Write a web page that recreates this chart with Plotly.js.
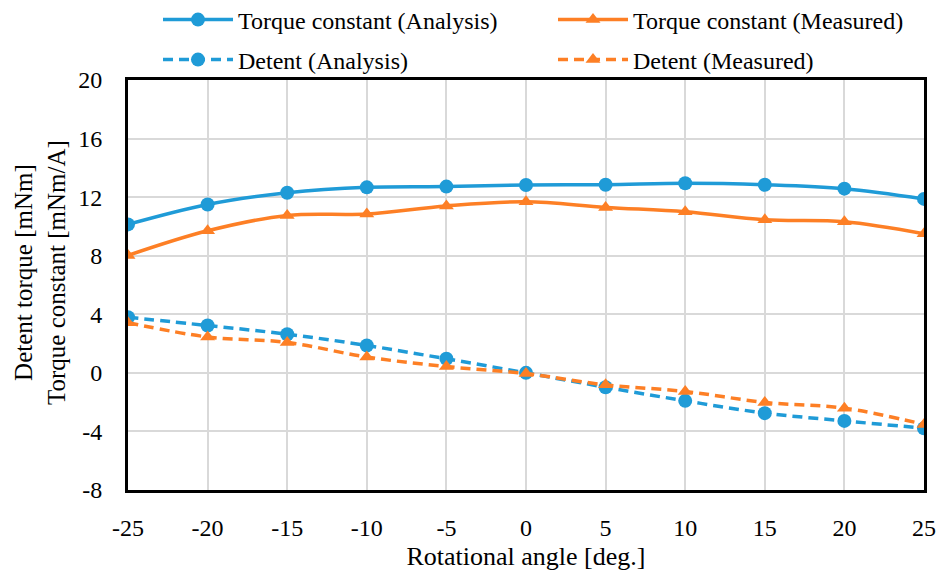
<!DOCTYPE html>
<html>
<head>
<meta charset="utf-8">
<script src="https://cdn.plot.ly/plotly-3.0.1.min.js"></script>
<style>html,body{margin:0;padding:0;background:#fff;}#chart{width:939px;height:572px;}</style>
</head>
<body>
<div id="chart"></div>
<script>
const angles = [-25, -20, -15, -10, -5, 0, 5, 10, 15, 20, 25];
const tcAnalysis = [10.14, 11.5, 12.3, 12.67, 12.72, 12.83, 12.85, 12.95, 12.85, 12.58, 11.88];
const tcMeasured = [8.02, 9.7, 10.75, 10.85, 11.4, 11.68, 11.3, 11.0, 10.45, 10.32, 9.5];
const detAnalysis = [3.8, 3.23, 2.64, 1.87, 0.96, 0.0, -0.98, -1.91, -2.75, -3.28, -3.78];
const detMeasured = [3.43, 2.45, 2.08, 1.08, 0.43, -0.05, -0.82, -1.27, -2.02, -2.41, -3.52];
const xTicks = [-25, -20, -15, -10, -5, 0, 5, 10, 15, 20, 25];
const yTicks = [-8, -4, 0, 4, 8, 12, 16, 20];

const blue = '#1f9bd7';
const orange = '#fd7f25';
const font = 'Liberation Serif';

const traces = [
  {x: angles, y: tcAnalysis, name: 'Torque constant (Analysis)', mode: 'lines+markers',
   line: {color: blue, width: 3.5, shape: 'spline'}, marker: {symbol: 'circle', size: 14, color: blue}, legend: 'legend'},
  {x: angles, y: tcMeasured, name: 'Torque constant (Measured)', mode: 'lines+markers',
   line: {color: orange, width: 3.5, shape: 'spline'}, marker: {symbol: 'triangle-up', size: 13, color: orange}, legend: 'legend2'},
  {x: angles, y: detAnalysis, name: 'Detent (Analysis)', mode: 'lines+markers',
   line: {color: blue, width: 3.5, dash: '10px,6px', shape: 'spline'}, marker: {symbol: 'circle', size: 14, color: blue}, legend: 'legend3'},
  {x: angles, y: detMeasured, name: 'Detent (Measured)', mode: 'lines+markers',
   line: {color: orange, width: 3.5, dash: '10px,6px', shape: 'spline'}, marker: {symbol: 'triangle-up', size: 13, color: orange}, legend: 'legend4'}
];

const legendCommon = {orientation: 'v', xref: 'paper', yref: 'paper', xanchor: 'left', yanchor: 'middle',
  font: {family: font, size: 24, color: '#000'}, bgcolor: 'rgba(0,0,0,0)', itemwidth: 70};
const col1 = (158 - 128) / 796, col2 = (553 - 128) / 796;
const row1 = 1 + 60 / 410, row2 = 1 + 20 / 410;

const layout = {
  width: 939, height: 572,
  margin: {l: 128, r: 15, t: 80, b: 82, autoexpand: false},
  paper_bgcolor: '#fff', plot_bgcolor: '#fff',
  font: {family: font, size: 24, color: '#000'},
  showlegend: true,
  legend: Object.assign({}, legendCommon, {x: col1, y: row1}),
  legend2: Object.assign({}, legendCommon, {x: col2, y: row1}),
  legend3: Object.assign({}, legendCommon, {x: col1, y: row2}),
  legend4: Object.assign({}, legendCommon, {x: col2, y: row2}),
  xaxis: {
    range: [-25, 25], tickvals: xTicks, ticktext: xTicks.map(String),
    showgrid: true, gridcolor: '#d9d9d9', gridwidth: 2,
    showline: true, linecolor: '#000', linewidth: 3, mirror: true,
    ticks: '', ticklabelstandoff: 14, zeroline: false, automargin: false,
    tickfont: {family: font, size: 24, color: '#000'},
    title: {text: 'Rotational angle [deg.]', font: {family: font, size: 26, color: '#000'}, standoff: 8}
  },
  yaxis: {
    range: [-8, 20], tickvals: yTicks, ticktext: yTicks.map(String),
    showgrid: true, gridcolor: '#d9d9d9', gridwidth: 2,
    showline: true, linecolor: '#000', linewidth: 3, mirror: true,
    ticks: '', ticklabelstandoff: 18, zeroline: false, automargin: false,
    tickfont: {family: font, size: 24, color: '#000'}
  },
  annotations: [{
    text: 'Detent torque [mNm]<br>Torque constant [mNm/A]', textangle: -90,
    xref: 'paper', yref: 'paper', x: (40 - 128) / 796, y: (490 - 273) / 410,
    xanchor: 'center', yanchor: 'middle', showarrow: false,
    font: {family: font, size: 25, color: '#000'}
  }]
};

Plotly.newPlot('chart', traces, layout, {staticPlot: true, displayModeBar: false});
</script>
</body>
</html>
